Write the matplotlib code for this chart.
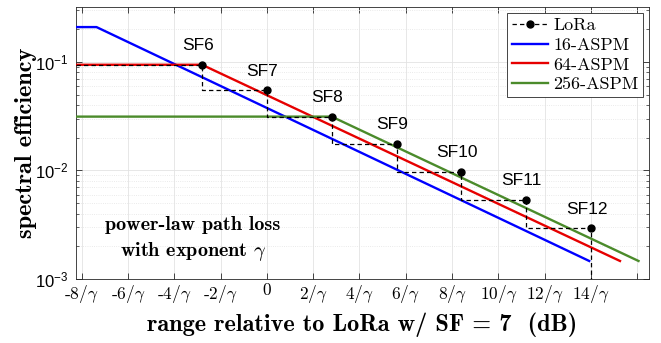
import matplotlib
matplotlib.use("Agg")
import matplotlib.pyplot as plt
from matplotlib.lines import Line2D
from matplotlib.ticker import LogLocator, NullFormatter, FixedLocator

plt.rcParams['font.family'] = ['Liberation Sans', 'DejaVu Sans']
plt.rcParams['mathtext.fontset'] = 'cm'

# ---- data ----
sf_labels = ['SF6', 'SF7', 'SF8', 'SF9', 'SF10', 'SF11', 'SF12']
sf_x = [-2.8, 0.0, 2.8, 5.6, 8.4, 11.2, 14.0]
sf_eff = [0.094, 0.0547, 0.0313, 0.0176, 0.00977, 0.00537, 0.00293]

aspm16_x = [-8.26, -7.36, 13.97]
aspm16_y = [0.209, 0.209, 0.00145]
aspm64_x = [-8.26, -2.8, 15.3]
aspm64_y = [0.094, 0.094, 0.00145]
aspm256_x = [-8.26, 2.8, 16.1]
aspm256_y = [0.0313, 0.0313, 0.00145]

xtick_vals = [-8, -6, -4, -2, 0, 2, 4, 6, 8, 10, 12, 14, 16]
xtick_labels = ['-8/$\\gamma$', '-6/$\\gamma$', '-4/$\\gamma$', '-2/$\\gamma$', '0',
                '2/$\\gamma$', '4/$\\gamma$', '6/$\\gamma$', '8/$\\gamma$', '10/$\\gamma$',
                '12/$\\gamma$', '14/$\\gamma$', '']

xmin, xmax = -8.26, 16.52
ymin, ymax = 1e-3, 0.32

fig = plt.figure(figsize=(6.61, 3.43), dpi=100)
ax = fig.add_axes([0.1145, 0.1866, 0.8678, 0.793])

# LoRa step curve
step_x = [xmin]
step_y = [sf_eff[0]]
for i in range(len(sf_x)):
    step_x.append(sf_x[i]); step_y.append(sf_eff[i])
    if i + 1 < len(sf_x):
        step_x.append(sf_x[i]); step_y.append(sf_eff[i + 1])
step_x.append(sf_x[-1]); step_y.append(ymin * 0.5)

blue = '#0000ff'
red = '#e60000'
green = '#4b8b2b'
lw = 1.7

ax.plot(aspm16_x, aspm16_y, color=blue, lw=lw, zorder=3, solid_capstyle='butt')
ax.plot(aspm64_x, aspm64_y, color=red, lw=lw, zorder=3, solid_capstyle='butt')
ax.plot(aspm256_x, aspm256_y, color=green, lw=lw, zorder=3, solid_capstyle='butt')
ax.plot(step_x, step_y, color='k', lw=0.9, ls=(0, (3.5, 2.5)), zorder=4)
ax.plot(sf_x, sf_eff, 'o', color='k', ms=5, zorder=5)

for lab, x, y in zip(sf_labels, sf_x, sf_eff):
    ax.annotate(lab, (x, y), xytext=(-3.2, 13.8), textcoords='offset points',
                ha='center', va='center', fontsize=12.5, family='Liberation Sans')

ax.set_yscale('log')
ax.set_xlim(xmin, xmax)
ax.set_ylim(ymin, ymax)

ax.set_xticks(xtick_vals)
ax.set_xticklabels(xtick_labels, fontfamily='cmr10', fontsize=12.5)
ax.yaxis.set_major_locator(FixedLocator([1e-3, 1e-2, 1e-1]))
ax.yaxis.set_minor_locator(LogLocator(base=10, subs=[2, 3, 4, 5, 6, 7, 8, 9]))
ax.yaxis.set_minor_formatter(NullFormatter())
for t in ax.get_yticklabels():
    t.set_fontsize(12)

ax.tick_params(which='both', direction='in', top=True, right=True, color='#262626')
ax.tick_params(which='major', length=4, width=0.6, pad=5)
ax.tick_params(which='minor', length=2.5, width=0.5)
ax.tick_params(axis='x', pad=3)

ax.grid(True, which='major', color='#e3e3e3', lw=0.6, ls='-')
ax.grid(True, which='minor', axis='y', color='#e3e3e3', lw=0.6, ls=':')
ax.set_axisbelow(True)
for s in ax.spines.values():
    s.set_color('#262626')
    s.set_linewidth(0.6)

ax.set_xlabel('range relative to LoRa w/ SF = 7  (dB)', family='cmb10', fontsize=17.5, va='center')
ax.xaxis.set_label_coords(0.5, -0.169)
ax.set_ylabel('spectral efficiency', family='cmb10', fontsize=17.5, va='center')
ax.yaxis.set_label_coords(-0.087, 0.5)

ax.text(-3.2, 0.0023, 'power-law path loss\nwith exponent $\\gamma$', family='cmb10',
        fontsize=14.5, ha='center', va='center', linespacing=1.4)

handles = [
    Line2D([], [], color='k', lw=0.9, ls=(0, (3.5, 2.5)), marker='o', ms=5),
    Line2D([], [], color=blue, lw=lw),
    Line2D([], [], color=red, lw=lw),
    Line2D([], [], color=green, lw=lw),
]
leg = ax.legend(handles, ['LoRa', '16-ASPM', '64-ASPM', '256-ASPM'], loc='upper right',
                prop={'family': 'cmr10', 'size': 13}, fancybox=False, framealpha=1,
                edgecolor='#262626', handlelength=2.0, borderaxespad=0.35,
                labelspacing=0.22, handletextpad=0.3, borderpad=0.25)
leg.get_frame().set_linewidth(0.6)

fig.savefig('out.png', dpi=100)
